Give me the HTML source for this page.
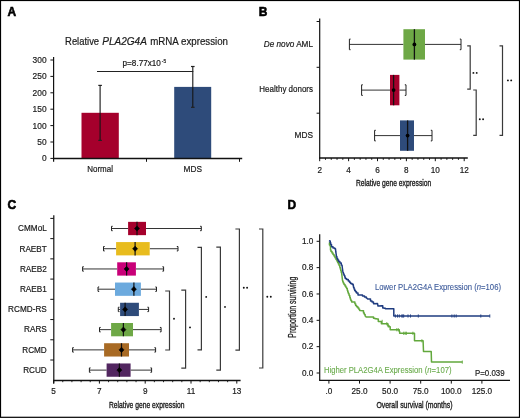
<!DOCTYPE html>
<html><head><meta charset="utf-8"><style>
html,body{margin:0;padding:0;background:#fff;width:520px;height:418px;overflow:hidden;}
svg{display:block;will-change:transform;}
text{font-family:"Liberation Sans", sans-serif;stroke:currentColor;stroke-width:0.18px;}
</style></head><body>
<svg width="520" height="418" viewBox="0 0 520 418">
<rect x="0" y="0" width="520" height="418" fill="#fff"/>
<rect x="0.5" y="0.5" width="519" height="416.8" fill="none" stroke="#000" stroke-width="1.2"/>
<text x="7.40" y="16.20" font-size="12" font-weight="bold" fill="#000" color="#000" transform="matrix(1,0,0,1.1,0,-1.620)" style="stroke-width:0.55px">A</text>
<text x="258.80" y="16.20" font-size="12" font-weight="bold" fill="#000" color="#000" transform="matrix(1,0,0,1.1,0,-1.620)" style="stroke-width:0.55px">B</text>
<text x="7.40" y="209.20" font-size="12" font-weight="bold" fill="#000" color="#000" transform="matrix(1,0,0,1.1,0,-20.920)" style="stroke-width:0.55px">C</text>
<text x="287.40" y="209.20" font-size="12" font-weight="bold" fill="#000" color="#000" transform="matrix(1,0,0,1.1,0,-20.920)" style="stroke-width:0.55px">D</text>
<text x="65.10" y="44.60" font-size="9.75" textLength="34.00" lengthAdjust="spacingAndGlyphs" fill="#1a1a1a" color="#1a1a1a" transform="matrix(1,0,0,1.14,0,-6.244)">Relative</text>
<text x="102.30" y="44.60" font-size="9.75" textLength="44.60" lengthAdjust="spacingAndGlyphs" font-style="italic" fill="#1a1a1a" color="#1a1a1a" transform="matrix(1,0,0,1.14,0,-6.244)">PLA2G4A</text>
<text x="150.20" y="44.60" font-size="9.75" textLength="77.80" lengthAdjust="spacingAndGlyphs" fill="#1a1a1a" color="#1a1a1a" transform="matrix(1,0,0,1.14,0,-6.244)">mRNA expression</text>
<rect x="81.50" y="112.80" width="37.30" height="45.60" fill="#a5002c"/>
<rect x="174.20" y="86.90" width="37.00" height="71.50" fill="#2e4b7a"/>
<line x1="100.10" y1="85.20" x2="100.10" y2="140.40" stroke="#151515" stroke-width="1.1"/>
<line x1="98.30" y1="85.40" x2="101.90" y2="85.40" stroke="#222" stroke-width="1.2"/>
<line x1="98.30" y1="140.40" x2="101.90" y2="140.40" stroke="#222" stroke-width="1.2"/>
<line x1="192.80" y1="66.30" x2="192.80" y2="107.30" stroke="#151515" stroke-width="1.1"/>
<line x1="191.00" y1="66.50" x2="194.60" y2="66.50" stroke="#222" stroke-width="1.2"/>
<line x1="191.00" y1="107.30" x2="194.60" y2="107.30" stroke="#222" stroke-width="1.2"/>
<line x1="97.00" y1="71.50" x2="193.30" y2="71.50" stroke="#222" stroke-width="1"/>
<text x="122.60" y="66.40" font-size="8.1" textLength="38.20" lengthAdjust="spacingAndGlyphs" fill="#1a1a1a" color="#1a1a1a" transform="matrix(1,0,0,1.1,0,-6.640)">p=8.77x10</text>
<text x="161.80" y="63.40" font-size="4.8" fill="#1a1a1a" color="#1a1a1a" transform="matrix(1,0,0,1.1,0,-6.340)">-5</text>
<line x1="53.60" y1="57.00" x2="53.60" y2="161.80" stroke="#111" stroke-width="1.2"/>
<line x1="53.00" y1="158.50" x2="242.20" y2="158.50" stroke="#111" stroke-width="1.3"/>
<line x1="50.40" y1="60.00" x2="53.60" y2="60.00" stroke="#111" stroke-width="1"/>
<text x="46.60" y="63.00" font-size="8.4" text-anchor="end" fill="#1a1a1a" color="#1a1a1a" transform="matrix(1,0,0,1.1,0,-6.300)">300</text>
<line x1="50.40" y1="76.40" x2="53.60" y2="76.40" stroke="#111" stroke-width="1"/>
<text x="46.60" y="79.40" font-size="8.4" text-anchor="end" fill="#1a1a1a" color="#1a1a1a" transform="matrix(1,0,0,1.1,0,-7.940)">250</text>
<line x1="50.40" y1="92.80" x2="53.60" y2="92.80" stroke="#111" stroke-width="1"/>
<text x="46.60" y="95.80" font-size="8.4" text-anchor="end" fill="#1a1a1a" color="#1a1a1a" transform="matrix(1,0,0,1.1,0,-9.580)">200</text>
<line x1="50.40" y1="109.20" x2="53.60" y2="109.20" stroke="#111" stroke-width="1"/>
<text x="46.60" y="112.20" font-size="8.4" text-anchor="end" fill="#1a1a1a" color="#1a1a1a" transform="matrix(1,0,0,1.1,0,-11.220)">150</text>
<line x1="50.40" y1="125.60" x2="53.60" y2="125.60" stroke="#111" stroke-width="1"/>
<text x="46.60" y="128.60" font-size="8.4" text-anchor="end" fill="#1a1a1a" color="#1a1a1a" transform="matrix(1,0,0,1.1,0,-12.860)">100</text>
<line x1="50.40" y1="142.00" x2="53.60" y2="142.00" stroke="#111" stroke-width="1"/>
<text x="46.60" y="145.00" font-size="8.4" text-anchor="end" fill="#1a1a1a" color="#1a1a1a" transform="matrix(1,0,0,1.1,0,-14.500)">50</text>
<line x1="50.40" y1="158.40" x2="53.60" y2="158.40" stroke="#111" stroke-width="1"/>
<text x="46.60" y="161.40" font-size="8.4" text-anchor="end" fill="#1a1a1a" color="#1a1a1a" transform="matrix(1,0,0,1.1,0,-16.140)">0</text>
<line x1="146.50" y1="158.50" x2="146.50" y2="161.80" stroke="#111" stroke-width="1"/>
<line x1="239.50" y1="158.50" x2="239.50" y2="161.80" stroke="#111" stroke-width="1"/>
<text x="100.10" y="172.20" font-size="8.0" text-anchor="middle" fill="#1a1a1a" color="#1a1a1a" transform="matrix(1,0,0,1.1,0,-17.220)">Normal</text>
<text x="192.80" y="172.20" font-size="8.3" text-anchor="middle" fill="#1a1a1a" color="#1a1a1a" transform="matrix(1,0,0,1.1,0,-17.220)">MDS</text>
<line x1="319.70" y1="18.50" x2="319.70" y2="158.50" stroke="#111" stroke-width="1.2"/>
<line x1="319.10" y1="158.00" x2="467.80" y2="158.00" stroke="#111" stroke-width="1.3"/>
<line x1="316.60" y1="21.50" x2="319.70" y2="21.50" stroke="#111" stroke-width="1"/>
<line x1="316.60" y1="67.30" x2="319.70" y2="67.30" stroke="#111" stroke-width="1"/>
<line x1="316.60" y1="113.20" x2="319.70" y2="113.20" stroke="#111" stroke-width="1"/>
<line x1="319.70" y1="158.00" x2="319.70" y2="161.20" stroke="#111" stroke-width="1"/>
<text x="319.70" y="172.60" font-size="8.2" text-anchor="middle" fill="#1a1a1a" color="#1a1a1a" transform="matrix(1,0,0,1.1,0,-17.260)">2</text>
<line x1="325.48" y1="158.00" x2="325.48" y2="159.90" stroke="#111" stroke-width="0.9"/>
<line x1="331.26" y1="158.00" x2="331.26" y2="159.90" stroke="#111" stroke-width="0.9"/>
<line x1="337.04" y1="158.00" x2="337.04" y2="159.90" stroke="#111" stroke-width="0.9"/>
<line x1="342.82" y1="158.00" x2="342.82" y2="159.90" stroke="#111" stroke-width="0.9"/>
<line x1="348.60" y1="158.00" x2="348.60" y2="161.20" stroke="#111" stroke-width="1"/>
<text x="348.60" y="172.60" font-size="8.2" text-anchor="middle" fill="#1a1a1a" color="#1a1a1a" transform="matrix(1,0,0,1.1,0,-17.260)">4</text>
<line x1="354.38" y1="158.00" x2="354.38" y2="159.90" stroke="#111" stroke-width="0.9"/>
<line x1="360.16" y1="158.00" x2="360.16" y2="159.90" stroke="#111" stroke-width="0.9"/>
<line x1="365.94" y1="158.00" x2="365.94" y2="159.90" stroke="#111" stroke-width="0.9"/>
<line x1="371.72" y1="158.00" x2="371.72" y2="159.90" stroke="#111" stroke-width="0.9"/>
<line x1="377.50" y1="158.00" x2="377.50" y2="161.20" stroke="#111" stroke-width="1"/>
<text x="377.50" y="172.60" font-size="8.2" text-anchor="middle" fill="#1a1a1a" color="#1a1a1a" transform="matrix(1,0,0,1.1,0,-17.260)">6</text>
<line x1="383.28" y1="158.00" x2="383.28" y2="159.90" stroke="#111" stroke-width="0.9"/>
<line x1="389.06" y1="158.00" x2="389.06" y2="159.90" stroke="#111" stroke-width="0.9"/>
<line x1="394.84" y1="158.00" x2="394.84" y2="159.90" stroke="#111" stroke-width="0.9"/>
<line x1="400.62" y1="158.00" x2="400.62" y2="159.90" stroke="#111" stroke-width="0.9"/>
<line x1="406.40" y1="158.00" x2="406.40" y2="161.20" stroke="#111" stroke-width="1"/>
<text x="406.40" y="172.60" font-size="8.2" text-anchor="middle" fill="#1a1a1a" color="#1a1a1a" transform="matrix(1,0,0,1.1,0,-17.260)">8</text>
<line x1="412.18" y1="158.00" x2="412.18" y2="159.90" stroke="#111" stroke-width="0.9"/>
<line x1="417.96" y1="158.00" x2="417.96" y2="159.90" stroke="#111" stroke-width="0.9"/>
<line x1="423.74" y1="158.00" x2="423.74" y2="159.90" stroke="#111" stroke-width="0.9"/>
<line x1="429.52" y1="158.00" x2="429.52" y2="159.90" stroke="#111" stroke-width="0.9"/>
<line x1="435.30" y1="158.00" x2="435.30" y2="161.20" stroke="#111" stroke-width="1"/>
<text x="435.30" y="172.60" font-size="8.2" text-anchor="middle" fill="#1a1a1a" color="#1a1a1a" transform="matrix(1,0,0,1.1,0,-17.260)">10</text>
<line x1="441.08" y1="158.00" x2="441.08" y2="159.90" stroke="#111" stroke-width="0.9"/>
<line x1="446.86" y1="158.00" x2="446.86" y2="159.90" stroke="#111" stroke-width="0.9"/>
<line x1="452.64" y1="158.00" x2="452.64" y2="159.90" stroke="#111" stroke-width="0.9"/>
<line x1="458.42" y1="158.00" x2="458.42" y2="159.90" stroke="#111" stroke-width="0.9"/>
<line x1="464.20" y1="158.00" x2="464.20" y2="161.20" stroke="#111" stroke-width="1"/>
<text x="464.20" y="172.60" font-size="8.2" text-anchor="middle" fill="#1a1a1a" color="#1a1a1a" transform="matrix(1,0,0,1.1,0,-17.260)">12</text>
<text x="356.00" y="185.70" font-size="8.6" textLength="75.20" lengthAdjust="spacingAndGlyphs" fill="#1a1a1a" color="#1a1a1a" transform="matrix(1,0,0,1.16,0,-29.712)" style="stroke-width:0.32px">Relative gene expression</text>
<text x="313.0" y="46.8" font-size="8.2" text-anchor="end" fill="#1a1a1a" color="#1a1a1a" transform="matrix(1,0,0,1.1,0,-4.680)"><tspan font-style="italic">De novo</tspan> AML</text>
<text x="313.00" y="92.20" font-size="8.0" text-anchor="end" fill="#1a1a1a" color="#1a1a1a" transform="matrix(1,0,0,1.1,0,-9.220)">Healthy donors</text>
<text x="313.00" y="137.60" font-size="8.3" text-anchor="end" fill="#1a1a1a" color="#1a1a1a" transform="matrix(1,0,0,1.1,0,-13.760)">MDS</text>
<line x1="349.40" y1="44.40" x2="403.40" y2="44.40" stroke="#333" stroke-width="1"/>
<line x1="425.00" y1="44.40" x2="461.00" y2="44.40" stroke="#333" stroke-width="1"/>
<path d="M350.60,39.10 L349.40,39.10 L349.40,49.70 L350.60,49.70" stroke="#222" stroke-width="1" fill="none"/>
<path d="M459.80,39.10 L461.00,39.10 L461.00,49.70 L459.80,49.70" stroke="#222" stroke-width="1" fill="none"/>
<rect x="403.40" y="29.20" width="21.60" height="30.40" fill="#6ea846"/>
<line x1="414.40" y1="29.20" x2="414.40" y2="59.60" stroke="#111" stroke-width="1.3"/>
<circle cx="414.40" cy="44.40" r="1.9" fill="#000"/>
<line x1="361.60" y1="90.10" x2="390.00" y2="90.10" stroke="#333" stroke-width="1"/>
<line x1="399.40" y1="90.10" x2="406.00" y2="90.10" stroke="#333" stroke-width="1"/>
<path d="M362.80,84.80 L361.60,84.80 L361.60,95.40 L362.80,95.40" stroke="#222" stroke-width="1" fill="none"/>
<path d="M404.80,84.80 L406.00,84.80 L406.00,95.40 L404.80,95.40" stroke="#222" stroke-width="1" fill="none"/>
<rect x="390.00" y="74.90" width="9.40" height="30.40" fill="#a5002c"/>
<line x1="393.60" y1="74.90" x2="393.60" y2="105.30" stroke="#111" stroke-width="1.3"/>
<circle cx="393.60" cy="90.10" r="1.9" fill="#000"/>
<line x1="374.60" y1="135.60" x2="400.00" y2="135.60" stroke="#333" stroke-width="1"/>
<line x1="414.00" y1="135.60" x2="432.00" y2="135.60" stroke="#333" stroke-width="1"/>
<path d="M375.80,130.30 L374.60,130.30 L374.60,140.90 L375.80,140.90" stroke="#222" stroke-width="1" fill="none"/>
<path d="M430.80,130.30 L432.00,130.30 L432.00,140.90 L430.80,140.90" stroke="#222" stroke-width="1" fill="none"/>
<rect x="400.00" y="120.40" width="14.00" height="30.40" fill="#2e4b7a"/>
<line x1="407.60" y1="120.40" x2="407.60" y2="150.80" stroke="#111" stroke-width="1.3"/>
<circle cx="407.60" cy="135.60" r="1.9" fill="#000"/>
<path d="M467.20,45.80 L470.20,45.80 L470.20,89.20 L467.20,89.20" stroke="#3a3a3a" stroke-width="1.2" fill="none"/>
<path d="M473.20,90.00 L476.20,90.00 L476.20,135.30 L473.20,135.30" stroke="#3a3a3a" stroke-width="1.2" fill="none"/>
<path d="M499.50,45.80 L502.50,45.80 L502.50,135.30 L499.50,135.30" stroke="#3a3a3a" stroke-width="1.2" fill="none"/>
<circle cx="473.40" cy="72.90" r="0.95" fill="#111"/>
<circle cx="476.70" cy="72.90" r="0.95" fill="#111"/>
<circle cx="479.80" cy="119.20" r="0.95" fill="#111"/>
<circle cx="483.10" cy="119.20" r="0.95" fill="#111"/>
<circle cx="507.90" cy="80.40" r="0.95" fill="#111"/>
<circle cx="511.20" cy="80.40" r="0.95" fill="#111"/>
<line x1="53.80" y1="215.20" x2="53.80" y2="383.50" stroke="#111" stroke-width="1.2"/>
<line x1="53.20" y1="380.50" x2="240.60" y2="380.50" stroke="#111" stroke-width="1.3"/>
<line x1="50.30" y1="218.40" x2="53.80" y2="218.40" stroke="#111" stroke-width="1"/>
<line x1="50.30" y1="238.63" x2="53.80" y2="238.63" stroke="#111" stroke-width="1"/>
<line x1="50.30" y1="258.86" x2="53.80" y2="258.86" stroke="#111" stroke-width="1"/>
<line x1="50.30" y1="279.09" x2="53.80" y2="279.09" stroke="#111" stroke-width="1"/>
<line x1="50.30" y1="299.32" x2="53.80" y2="299.32" stroke="#111" stroke-width="1"/>
<line x1="50.30" y1="319.55" x2="53.80" y2="319.55" stroke="#111" stroke-width="1"/>
<line x1="50.30" y1="339.78" x2="53.80" y2="339.78" stroke="#111" stroke-width="1"/>
<line x1="50.30" y1="360.01" x2="53.80" y2="360.01" stroke="#111" stroke-width="1"/>
<line x1="53.60" y1="380.50" x2="53.60" y2="383.60" stroke="#111" stroke-width="1"/>
<text x="53.60" y="394.40" font-size="8.2" text-anchor="middle" fill="#1a1a1a" color="#1a1a1a" transform="matrix(1,0,0,1.1,0,-39.440)">5</text>
<line x1="62.76" y1="380.50" x2="62.76" y2="382.20" stroke="#111" stroke-width="0.9"/>
<line x1="71.92" y1="380.50" x2="71.92" y2="382.20" stroke="#111" stroke-width="0.9"/>
<line x1="81.08" y1="380.50" x2="81.08" y2="382.20" stroke="#111" stroke-width="0.9"/>
<line x1="90.24" y1="380.50" x2="90.24" y2="382.20" stroke="#111" stroke-width="0.9"/>
<line x1="99.40" y1="380.50" x2="99.40" y2="383.60" stroke="#111" stroke-width="1"/>
<text x="99.40" y="394.40" font-size="8.2" text-anchor="middle" fill="#1a1a1a" color="#1a1a1a" transform="matrix(1,0,0,1.1,0,-39.440)">7</text>
<line x1="108.56" y1="380.50" x2="108.56" y2="382.20" stroke="#111" stroke-width="0.9"/>
<line x1="117.72" y1="380.50" x2="117.72" y2="382.20" stroke="#111" stroke-width="0.9"/>
<line x1="126.88" y1="380.50" x2="126.88" y2="382.20" stroke="#111" stroke-width="0.9"/>
<line x1="136.04" y1="380.50" x2="136.04" y2="382.20" stroke="#111" stroke-width="0.9"/>
<line x1="145.20" y1="380.50" x2="145.20" y2="383.60" stroke="#111" stroke-width="1"/>
<text x="145.20" y="394.40" font-size="8.2" text-anchor="middle" fill="#1a1a1a" color="#1a1a1a" transform="matrix(1,0,0,1.1,0,-39.440)">9</text>
<line x1="154.36" y1="380.50" x2="154.36" y2="382.20" stroke="#111" stroke-width="0.9"/>
<line x1="163.52" y1="380.50" x2="163.52" y2="382.20" stroke="#111" stroke-width="0.9"/>
<line x1="172.68" y1="380.50" x2="172.68" y2="382.20" stroke="#111" stroke-width="0.9"/>
<line x1="181.84" y1="380.50" x2="181.84" y2="382.20" stroke="#111" stroke-width="0.9"/>
<line x1="191.00" y1="380.50" x2="191.00" y2="383.60" stroke="#111" stroke-width="1"/>
<text x="191.00" y="394.40" font-size="8.2" text-anchor="middle" fill="#1a1a1a" color="#1a1a1a" transform="matrix(1,0,0,1.1,0,-39.440)">11</text>
<line x1="200.16" y1="380.50" x2="200.16" y2="382.20" stroke="#111" stroke-width="0.9"/>
<line x1="209.32" y1="380.50" x2="209.32" y2="382.20" stroke="#111" stroke-width="0.9"/>
<line x1="218.48" y1="380.50" x2="218.48" y2="382.20" stroke="#111" stroke-width="0.9"/>
<line x1="227.64" y1="380.50" x2="227.64" y2="382.20" stroke="#111" stroke-width="0.9"/>
<line x1="236.80" y1="380.50" x2="236.80" y2="383.60" stroke="#111" stroke-width="1"/>
<text x="236.80" y="394.40" font-size="8.2" text-anchor="middle" fill="#1a1a1a" color="#1a1a1a" transform="matrix(1,0,0,1.1,0,-39.440)">13</text>
<text x="109.00" y="407.80" font-size="8.6" textLength="75.60" lengthAdjust="spacingAndGlyphs" fill="#1a1a1a" color="#1a1a1a" transform="matrix(1,0,0,1.16,0,-65.248)" style="stroke-width:0.32px">Relative gene expression</text>
<text x="46.80" y="231.40" font-size="8.2" text-anchor="end" fill="#1a1a1a" color="#1a1a1a" transform="matrix(1,0,0,1.1,0,-23.140)">CMMoL</text>
<text x="46.80" y="251.60" font-size="8.2" text-anchor="end" fill="#1a1a1a" color="#1a1a1a" transform="matrix(1,0,0,1.1,0,-25.160)">RAEBT</text>
<text x="46.80" y="271.80" font-size="8.2" text-anchor="end" fill="#1a1a1a" color="#1a1a1a" transform="matrix(1,0,0,1.1,0,-27.180)">RAEB2</text>
<text x="46.80" y="292.00" font-size="8.2" text-anchor="end" fill="#1a1a1a" color="#1a1a1a" transform="matrix(1,0,0,1.1,0,-29.200)">RAEB1</text>
<text x="46.80" y="312.20" font-size="8.2" text-anchor="end" fill="#1a1a1a" color="#1a1a1a" transform="matrix(1,0,0,1.1,0,-31.220)">RCMD-RS</text>
<text x="46.80" y="332.40" font-size="8.2" text-anchor="end" fill="#1a1a1a" color="#1a1a1a" transform="matrix(1,0,0,1.1,0,-33.240)">RARS</text>
<text x="46.80" y="352.60" font-size="8.2" text-anchor="end" fill="#1a1a1a" color="#1a1a1a" transform="matrix(1,0,0,1.1,0,-35.260)">RCMD</text>
<text x="46.80" y="372.80" font-size="8.2" text-anchor="end" fill="#1a1a1a" color="#1a1a1a" transform="matrix(1,0,0,1.1,0,-37.280)">RCUD</text>
<line x1="111.50" y1="228.50" x2="128.10" y2="228.50" stroke="#333" stroke-width="1"/>
<line x1="146.00" y1="228.50" x2="201.30" y2="228.50" stroke="#333" stroke-width="1"/>
<path d="M112.70,226.30 L111.50,226.30 L111.50,230.70 L112.70,230.70" stroke="#222" stroke-width="1" fill="none"/>
<path d="M200.10,226.30 L201.30,226.30 L201.30,230.70 L200.10,230.70" stroke="#222" stroke-width="1" fill="none"/>
<rect x="128.10" y="221.85" width="17.90" height="13.30" fill="#a5002c"/>
<line x1="137.00" y1="221.85" x2="137.00" y2="235.15" stroke="#111" stroke-width="1.2"/>
<path d="M134.50,228.50 L137.00,225.90 L139.50,228.50 L137.00,231.10 Z" fill="#000" stroke="#000" stroke-width="0.6" stroke-linejoin="round"/>
<line x1="103.50" y1="248.73" x2="116.10" y2="248.73" stroke="#333" stroke-width="1"/>
<line x1="149.70" y1="248.73" x2="178.00" y2="248.73" stroke="#333" stroke-width="1"/>
<path d="M104.70,246.53 L103.50,246.53 L103.50,250.93 L104.70,250.93" stroke="#222" stroke-width="1" fill="none"/>
<path d="M176.80,246.53 L178.00,246.53 L178.00,250.93 L176.80,250.93" stroke="#222" stroke-width="1" fill="none"/>
<rect x="116.10" y="242.08" width="33.60" height="13.30" fill="#e8bc1e"/>
<line x1="135.10" y1="242.08" x2="135.10" y2="255.38" stroke="#111" stroke-width="1.2"/>
<path d="M132.60,248.73 L135.10,246.13 L137.60,248.73 L135.10,251.33 Z" fill="#000" stroke="#000" stroke-width="0.6" stroke-linejoin="round"/>
<line x1="82.60" y1="268.96" x2="117.20" y2="268.96" stroke="#333" stroke-width="1"/>
<line x1="135.90" y1="268.96" x2="163.60" y2="268.96" stroke="#333" stroke-width="1"/>
<path d="M83.80,266.76 L82.60,266.76 L82.60,271.16 L83.80,271.16" stroke="#222" stroke-width="1" fill="none"/>
<path d="M162.40,266.76 L163.60,266.76 L163.60,271.16 L162.40,271.16" stroke="#222" stroke-width="1" fill="none"/>
<rect x="117.20" y="262.31" width="18.70" height="13.30" fill="#c80078"/>
<line x1="126.60" y1="262.31" x2="126.60" y2="275.61" stroke="#111" stroke-width="1.2"/>
<path d="M124.10,268.96 L126.60,266.36 L129.10,268.96 L126.60,271.56 Z" fill="#000" stroke="#000" stroke-width="0.6" stroke-linejoin="round"/>
<line x1="98.00" y1="289.19" x2="115.00" y2="289.19" stroke="#333" stroke-width="1"/>
<line x1="140.90" y1="289.19" x2="156.50" y2="289.19" stroke="#333" stroke-width="1"/>
<path d="M99.20,286.99 L98.00,286.99 L98.00,291.39 L99.20,291.39" stroke="#222" stroke-width="1" fill="none"/>
<path d="M155.30,286.99 L156.50,286.99 L156.50,291.39 L155.30,291.39" stroke="#222" stroke-width="1" fill="none"/>
<rect x="115.00" y="282.54" width="25.90" height="13.30" fill="#6caade"/>
<line x1="133.90" y1="282.54" x2="133.90" y2="295.84" stroke="#111" stroke-width="1.2"/>
<path d="M131.40,289.19 L133.90,286.59 L136.40,289.19 L133.90,291.79 Z" fill="#000" stroke="#000" stroke-width="0.6" stroke-linejoin="round"/>
<line x1="118.30" y1="309.42" x2="120.10" y2="309.42" stroke="#333" stroke-width="1"/>
<line x1="138.90" y1="309.42" x2="148.60" y2="309.42" stroke="#333" stroke-width="1"/>
<path d="M119.50,307.22 L118.30,307.22 L118.30,311.62 L119.50,311.62" stroke="#222" stroke-width="1" fill="none"/>
<path d="M147.40,307.22 L148.60,307.22 L148.60,311.62 L147.40,311.62" stroke="#222" stroke-width="1" fill="none"/>
<rect x="120.10" y="302.77" width="18.80" height="13.30" fill="#2e4b7a"/>
<line x1="125.10" y1="302.77" x2="125.10" y2="316.07" stroke="#111" stroke-width="1.2"/>
<path d="M122.60,309.42 L125.10,306.82 L127.60,309.42 L125.10,312.02 Z" fill="#000" stroke="#000" stroke-width="0.6" stroke-linejoin="round"/>
<line x1="99.50" y1="329.65" x2="111.10" y2="329.65" stroke="#333" stroke-width="1"/>
<line x1="133.00" y1="329.65" x2="161.10" y2="329.65" stroke="#333" stroke-width="1"/>
<path d="M100.70,327.45 L99.50,327.45 L99.50,331.85 L100.70,331.85" stroke="#222" stroke-width="1" fill="none"/>
<path d="M159.90,327.45 L161.10,327.45 L161.10,331.85 L159.90,331.85" stroke="#222" stroke-width="1" fill="none"/>
<rect x="111.10" y="323.00" width="21.90" height="13.30" fill="#6ea846"/>
<line x1="123.40" y1="323.00" x2="123.40" y2="336.30" stroke="#111" stroke-width="1.2"/>
<path d="M120.90,329.65 L123.40,327.05 L125.90,329.65 L123.40,332.25 Z" fill="#000" stroke="#000" stroke-width="0.6" stroke-linejoin="round"/>
<line x1="72.60" y1="349.88" x2="104.10" y2="349.88" stroke="#333" stroke-width="1"/>
<line x1="129.00" y1="349.88" x2="155.60" y2="349.88" stroke="#333" stroke-width="1"/>
<path d="M73.80,347.68 L72.60,347.68 L72.60,352.08 L73.80,352.08" stroke="#222" stroke-width="1" fill="none"/>
<path d="M154.40,347.68 L155.60,347.68 L155.60,352.08 L154.40,352.08" stroke="#222" stroke-width="1" fill="none"/>
<rect x="104.10" y="343.23" width="24.90" height="13.30" fill="#a86a24"/>
<line x1="121.50" y1="343.23" x2="121.50" y2="356.53" stroke="#111" stroke-width="1.2"/>
<path d="M119.00,349.88 L121.50,347.28 L124.00,349.88 L121.50,352.48 Z" fill="#000" stroke="#000" stroke-width="0.6" stroke-linejoin="round"/>
<line x1="89.40" y1="370.11" x2="106.60" y2="370.11" stroke="#333" stroke-width="1"/>
<line x1="130.60" y1="370.11" x2="151.60" y2="370.11" stroke="#333" stroke-width="1"/>
<path d="M90.60,367.91 L89.40,367.91 L89.40,372.31 L90.60,372.31" stroke="#222" stroke-width="1" fill="none"/>
<path d="M150.40,367.91 L151.60,367.91 L151.60,372.31 L150.40,372.31" stroke="#222" stroke-width="1" fill="none"/>
<rect x="106.60" y="363.46" width="24.00" height="13.30" fill="#522660"/>
<line x1="119.40" y1="363.46" x2="119.40" y2="376.76" stroke="#111" stroke-width="1.2"/>
<path d="M116.90,370.11 L119.40,367.51 L121.90,370.11 L119.40,372.71 Z" fill="#000" stroke="#000" stroke-width="0.6" stroke-linejoin="round"/>
<path d="M165.20,291.00 L169.50,291.00 L169.50,350.00 L165.20,350.00" stroke="#3a3a3a" stroke-width="1.2" fill="none"/>
<path d="M181.30,290.20 L185.60,290.20 L185.60,368.10 L181.30,368.10" stroke="#3a3a3a" stroke-width="1.2" fill="none"/>
<path d="M197.50,247.30 L201.40,247.30 L201.40,349.90 L197.50,349.90" stroke="#3a3a3a" stroke-width="1.2" fill="none"/>
<path d="M216.30,247.20 L220.40,247.20 L220.40,370.20 L216.30,370.20" stroke="#3a3a3a" stroke-width="1.2" fill="none"/>
<path d="M235.40,229.00 L239.40,229.00 L239.40,350.20 L235.40,350.20" stroke="#3a3a3a" stroke-width="1.2" fill="none"/>
<path d="M259.00,229.00 L262.80,229.00 L262.80,368.00 L259.00,368.00" stroke="#3a3a3a" stroke-width="1.2" fill="none"/>
<circle cx="174.00" cy="318.80" r="0.95" fill="#111"/>
<circle cx="190.00" cy="327.40" r="0.95" fill="#111"/>
<circle cx="206.20" cy="296.90" r="0.95" fill="#111"/>
<circle cx="225.00" cy="306.90" r="0.95" fill="#111"/>
<circle cx="243.80" cy="287.80" r="0.95" fill="#111"/>
<circle cx="247.10" cy="287.80" r="0.95" fill="#111"/>
<circle cx="267.30" cy="296.70" r="0.95" fill="#111"/>
<circle cx="270.80" cy="296.70" r="0.95" fill="#111"/>
<line x1="319.70" y1="234.20" x2="319.70" y2="380.30" stroke="#111" stroke-width="1.2"/>
<line x1="319.10" y1="380.30" x2="510.00" y2="380.30" stroke="#111" stroke-width="1.3"/>
<line x1="316.60" y1="373.00" x2="319.70" y2="373.00" stroke="#111" stroke-width="1"/>
<text x="313.40" y="375.80" font-size="8.2" text-anchor="end" fill="#1a1a1a" color="#1a1a1a" transform="matrix(1,0,0,1.1,0,-37.580)">0.0</text>
<line x1="316.60" y1="346.66" x2="319.70" y2="346.66" stroke="#111" stroke-width="1"/>
<text x="313.40" y="349.46" font-size="8.2" text-anchor="end" fill="#1a1a1a" color="#1a1a1a" transform="matrix(1,0,0,1.1,0,-34.946)">0.2</text>
<line x1="316.60" y1="320.32" x2="319.70" y2="320.32" stroke="#111" stroke-width="1"/>
<text x="313.40" y="323.12" font-size="8.2" text-anchor="end" fill="#1a1a1a" color="#1a1a1a" transform="matrix(1,0,0,1.1,0,-32.312)">0.4</text>
<line x1="316.60" y1="293.98" x2="319.70" y2="293.98" stroke="#111" stroke-width="1"/>
<text x="313.40" y="296.78" font-size="8.2" text-anchor="end" fill="#1a1a1a" color="#1a1a1a" transform="matrix(1,0,0,1.1,0,-29.678)">0.6</text>
<line x1="316.60" y1="267.64" x2="319.70" y2="267.64" stroke="#111" stroke-width="1"/>
<text x="313.40" y="270.44" font-size="8.2" text-anchor="end" fill="#1a1a1a" color="#1a1a1a" transform="matrix(1,0,0,1.1,0,-27.044)">0.8</text>
<line x1="316.60" y1="241.30" x2="319.70" y2="241.30" stroke="#111" stroke-width="1"/>
<text x="313.40" y="244.10" font-size="8.2" text-anchor="end" fill="#1a1a1a" color="#1a1a1a" transform="matrix(1,0,0,1.1,0,-24.410)">1.0</text>
<line x1="328.90" y1="380.30" x2="328.90" y2="383.60" stroke="#111" stroke-width="1"/>
<text x="328.90" y="394.20" font-size="8.2" text-anchor="middle" fill="#1a1a1a" color="#1a1a1a" transform="matrix(1,0,0,1.1,0,-39.420)">.0</text>
<line x1="359.50" y1="380.30" x2="359.50" y2="383.60" stroke="#111" stroke-width="1"/>
<text x="359.50" y="394.20" font-size="8.2" text-anchor="middle" fill="#1a1a1a" color="#1a1a1a" transform="matrix(1,0,0,1.1,0,-39.420)">25.0</text>
<line x1="390.10" y1="380.30" x2="390.10" y2="383.60" stroke="#111" stroke-width="1"/>
<text x="390.10" y="394.20" font-size="8.2" text-anchor="middle" fill="#1a1a1a" color="#1a1a1a" transform="matrix(1,0,0,1.1,0,-39.420)">50.0</text>
<line x1="420.70" y1="380.30" x2="420.70" y2="383.60" stroke="#111" stroke-width="1"/>
<text x="420.70" y="394.20" font-size="8.2" text-anchor="middle" fill="#1a1a1a" color="#1a1a1a" transform="matrix(1,0,0,1.1,0,-39.420)">75.0</text>
<line x1="451.30" y1="380.30" x2="451.30" y2="383.60" stroke="#111" stroke-width="1"/>
<text x="451.30" y="394.20" font-size="8.2" text-anchor="middle" fill="#1a1a1a" color="#1a1a1a" transform="matrix(1,0,0,1.1,0,-39.420)">100.0</text>
<line x1="481.90" y1="380.30" x2="481.90" y2="383.60" stroke="#111" stroke-width="1"/>
<text x="481.90" y="394.20" font-size="8.2" text-anchor="middle" fill="#1a1a1a" color="#1a1a1a" transform="matrix(1,0,0,1.1,0,-39.420)">125.0</text>
<text x="376.40" y="407.60" font-size="8.6" textLength="76.20" lengthAdjust="spacingAndGlyphs" fill="#1a1a1a" color="#1a1a1a" transform="matrix(1,0,0,1.16,0,-65.216)" style="stroke-width:0.32px">Overall survival (months)</text>
<text x="0" y="0" font-size="8.6" fill="#1a1a1a" color="#1a1a1a" textLength="61" lengthAdjust="spacingAndGlyphs" transform="translate(296.2,337.7) rotate(-90) scale(1,1.22)" style="stroke-width:0.22px">Proportion surviving</text>
<path d="M328.90,242.80 L329.45,242.80 L329.45,245.00 L330.00,245.00 L330.50,247.00 L330.50,250.00 L331.00,250.00 L331.00,251.50 L332.00,251.50 L332.00,253.00 L332.50,253.00 L333.00,253.00 L333.00,254.50 L334.00,254.50 L334.00,256.00 L334.50,256.00 L335.00,256.00 L335.00,257.75 L336.00,257.75 L336.00,259.50 L336.50,259.50 L336.88,259.50 L336.88,261.00 L337.62,261.00 L337.62,262.50 L338.00,262.50 L338.38,262.50 L338.38,264.00 L339.12,264.00 L339.12,265.50 L339.50,265.50 L339.75,265.50 L339.75,267.25 L340.25,267.25 L340.25,269.00 L340.50,269.00 L340.75,269.00 L340.75,270.75 L341.25,270.75 L341.25,272.50 L341.50,272.50 L342.00,276.00 L342.50,280.50 L342.75,280.50 L342.75,281.75 L343.25,281.75 L343.25,283.00 L343.50,283.00 L344.00,283.00 L344.00,284.50 L345.00,284.50 L345.00,286.00 L345.50,286.00 L345.88,286.00 L345.88,287.25 L346.62,287.25 L346.62,288.50 L347.00,288.50 L347.25,288.50 L347.25,290.25 L347.75,290.25 L347.75,292.00 L348.00,292.00 L348.38,292.00 L348.38,293.75 L349.12,293.75 L349.12,295.50 L349.50,295.50 L349.75,295.50 L349.75,297.25 L350.25,297.25 L350.25,299.00 L350.50,299.00 L350.88,299.00 L350.88,300.50 L351.62,300.50 L351.62,302.00 L352.00,302.00 L354.50,302.00 L354.88,302.00 L354.88,303.75 L355.62,303.75 L355.62,305.50 L356.00,305.50 L356.62,305.50 L356.62,306.75 L357.88,306.75 L357.88,308.00 L358.50,308.00 L358.88,308.00 L358.88,309.25 L359.62,309.25 L359.62,310.50 L360.00,310.50 L363.00,310.75 L363.50,310.75 L363.50,313.00 L364.00,313.00 L364.38,313.00 L364.38,314.50 L365.12,314.50 L365.12,316.00 L365.50,316.00 L366.00,317.00 L373.00,317.00 L373.50,317.00 L373.50,318.30 L374.00,318.30 L374.98,318.30 L374.98,318.70 L376.92,318.70 L376.92,319.10 L377.90,319.10 L378.30,319.10 L378.30,321.40 L378.70,321.40 L381.00,321.40 L381.40,321.40 L381.40,323.70 L381.80,323.70 L387.50,323.70 L387.90,323.70 L387.90,326.00 L388.30,326.00 L389.25,326.00 L389.25,326.80 L390.20,326.80 L390.20,329.70 L399.10,329.70 L399.28,329.70 L399.28,331.50 L399.62,331.50 L399.62,333.30 L399.80,333.30 L414.50,333.30 L414.50,340.80 L423.10,340.80 L423.50,351.50 L431.20,351.50 L431.50,362.10 L462.30,362.10" stroke="#62a83c" stroke-width="1.5" fill="none" stroke-linejoin="round"/>
<path d="M328.90,240.80 L330.00,241.00 L330.25,241.00 L330.25,242.75 L330.75,242.75 L330.75,244.50 L331.00,244.50 L331.50,244.50 L331.50,246.70 L332.00,246.70 L333.00,246.70 L333.00,248.00 L334.00,248.00 L334.75,248.00 L334.75,248.70 L335.50,248.70 L335.80,252.00 L336.00,253.00 L336.50,256.50 L336.88,256.50 L336.88,258.25 L337.62,258.25 L337.62,260.00 L338.00,260.00 L338.62,260.00 L338.62,261.50 L339.88,261.50 L339.88,263.00 L340.50,263.00 L341.25,263.00 L341.25,265.00 L342.00,265.00 L342.50,269.00 L343.00,272.50 L343.38,272.50 L343.38,274.00 L344.12,274.00 L344.12,275.50 L344.50,275.50 L344.75,275.50 L344.75,277.00 L345.25,277.00 L345.25,278.50 L345.50,278.50 L346.50,278.50 L346.50,279.50 L347.50,279.50 L348.25,279.50 L348.25,281.00 L349.00,281.00 L349.50,281.00 L349.50,282.25 L350.50,282.25 L350.50,283.50 L351.00,283.50 L352.00,283.50 L352.00,284.30 L353.00,284.30 L353.19,284.30 L353.19,285.90 L353.56,285.90 L353.56,287.50 L353.75,287.50 L354.06,287.50 L354.06,289.00 L354.69,289.00 L354.69,290.50 L355.00,290.50 L355.50,290.50 L355.50,291.75 L356.50,291.75 L356.50,293.00 L357.00,293.00 L358.00,293.00 L358.00,295.00 L359.00,295.00 L361.50,295.00 L362.50,295.00 L362.50,296.00 L363.50,296.00 L364.50,296.00 L364.50,297.00 L365.50,297.00 L366.25,297.00 L366.25,298.00 L367.00,298.00 L367.50,299.00 L370.00,299.00 L370.50,299.00 L370.50,301.00 L371.00,301.00 L372.00,301.00 L372.00,302.00 L373.00,302.00 L373.50,302.00 L373.50,303.70 L374.00,303.70 L377.50,303.50 L378.00,306.00 L382.00,305.80 L382.75,305.80 L382.75,308.00 L383.50,308.00 L384.12,308.00 L384.12,308.35 L385.38,308.35 L385.38,308.70 L386.00,308.70 L393.80,308.70 L393.80,316.00 L489.80,316.00" stroke="#1f3c80" stroke-width="1.5" fill="none" stroke-linejoin="round"/>
<line x1="395.40" y1="314.40" x2="395.40" y2="317.60" stroke="#1f3c80" stroke-width="0.9"/>
<line x1="397.50" y1="314.40" x2="397.50" y2="317.60" stroke="#1f3c80" stroke-width="0.9"/>
<line x1="399.30" y1="314.40" x2="399.30" y2="317.60" stroke="#1f3c80" stroke-width="0.9"/>
<line x1="401.80" y1="314.40" x2="401.80" y2="317.60" stroke="#1f3c80" stroke-width="0.9"/>
<line x1="402.80" y1="314.40" x2="402.80" y2="317.60" stroke="#1f3c80" stroke-width="0.9"/>
<line x1="403.70" y1="314.40" x2="403.70" y2="317.60" stroke="#1f3c80" stroke-width="0.9"/>
<line x1="408.00" y1="314.40" x2="408.00" y2="317.60" stroke="#1f3c80" stroke-width="0.9"/>
<line x1="410.50" y1="314.40" x2="410.50" y2="317.60" stroke="#1f3c80" stroke-width="0.9"/>
<line x1="418.30" y1="314.40" x2="418.30" y2="317.60" stroke="#1f3c80" stroke-width="0.9"/>
<line x1="451.90" y1="314.40" x2="451.90" y2="317.60" stroke="#1f3c80" stroke-width="0.9"/>
<line x1="454.20" y1="314.40" x2="454.20" y2="317.60" stroke="#1f3c80" stroke-width="0.9"/>
<line x1="456.20" y1="314.40" x2="456.20" y2="317.60" stroke="#1f3c80" stroke-width="0.9"/>
<line x1="480.80" y1="314.40" x2="480.80" y2="317.60" stroke="#1f3c80" stroke-width="0.9"/>
<line x1="489.80" y1="314.40" x2="489.80" y2="317.60" stroke="#1f3c80" stroke-width="0.9"/>
<line x1="382.20" y1="319.80" x2="382.20" y2="323.00" stroke="#62a83c" stroke-width="0.9"/>
<line x1="386.80" y1="322.10" x2="386.80" y2="325.30" stroke="#62a83c" stroke-width="0.9"/>
<line x1="388.30" y1="324.40" x2="388.30" y2="327.60" stroke="#62a83c" stroke-width="0.9"/>
<line x1="396.80" y1="328.10" x2="396.80" y2="331.30" stroke="#62a83c" stroke-width="0.9"/>
<line x1="398.30" y1="328.10" x2="398.30" y2="331.30" stroke="#62a83c" stroke-width="0.9"/>
<line x1="403.70" y1="331.70" x2="403.70" y2="334.90" stroke="#62a83c" stroke-width="0.9"/>
<line x1="405.20" y1="331.70" x2="405.20" y2="334.90" stroke="#62a83c" stroke-width="0.9"/>
<line x1="406.40" y1="331.70" x2="406.40" y2="334.90" stroke="#62a83c" stroke-width="0.9"/>
<line x1="412.90" y1="331.70" x2="412.90" y2="334.90" stroke="#62a83c" stroke-width="0.9"/>
<line x1="421.90" y1="339.20" x2="421.90" y2="342.40" stroke="#62a83c" stroke-width="0.9"/>
<line x1="462.30" y1="360.50" x2="462.30" y2="363.70" stroke="#62a83c" stroke-width="0.9"/>
<text x="375.00" y="289.60" font-size="7.75" textLength="126.00" lengthAdjust="spacingAndGlyphs" fill="#3c5a9a" color="#3c5a9a" transform="matrix(1,0,0,1.14,0,-40.544)" style="stroke-width:0.1px">Lower PLA2G4A Expression (<tspan font-style="italic">n</tspan>=106)</text>
<text x="323.90" y="373.10" font-size="7.75" textLength="127.60" lengthAdjust="spacingAndGlyphs" fill="#6aab4c" color="#6aab4c" transform="matrix(1,0,0,1.14,0,-52.234)" style="stroke-width:0.1px">Higher PLA2G4A Expression (<tspan font-style="italic">n</tspan>=107)</text>
<text x="475.00" y="375.80" font-size="8.0" textLength="29.60" lengthAdjust="spacingAndGlyphs" fill="#222" color="#222" transform="matrix(1,0,0,1.1,0,-37.580)">P=0.039</text>
</svg>
</body></html>
